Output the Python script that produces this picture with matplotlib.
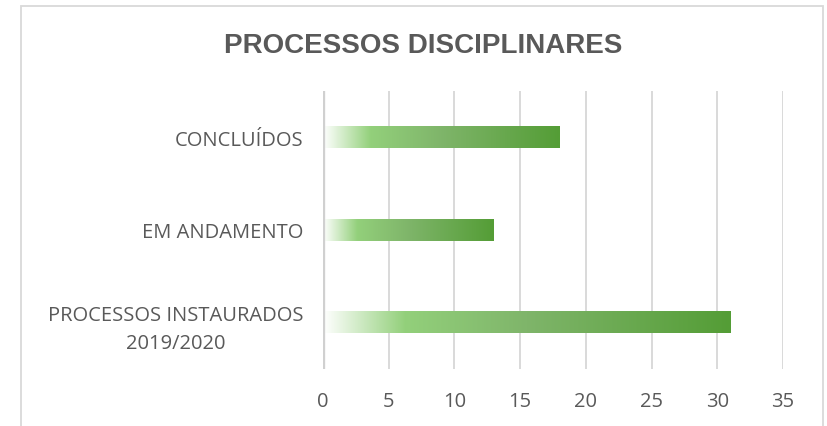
import matplotlib.pyplot as plt
from matplotlib.colors import LinearSegmentedColormap
from matplotlib.patches import Rectangle
import numpy as np

# data
categories = ['PROCESSOS INSTAURADOS\n2019/2020', 'EM ANDAMENTO', 'CONCLUÍDOS']
values = [31, 13, 18]
x_ticks = [0, 5, 10, 15, 20, 25, 30, 35]

text_color = '#595959'
grid_color = '#d9d9d9'

# gradient fill used in every bar (white -> light green -> dark green)
green_grad = LinearSegmentedColormap.from_list('green_grad', [
    (0.0, '#ffffff'),
    (0.2, '#93d07b'),
    (0.5, '#7fb56a'),
    (1.0, '#549d36'),
])

fig = plt.figure(figsize=(8.27, 4.27), dpi=100)
ax = fig.add_axes([323 / 827, 1 - 370 / 427, (783 - 323) / 827, (370 - 92) / 427])

# chart border
fig.patches.append(Rectangle((21 / 827, -0.05), (823 - 21) / 827, 1.05 - 7 / 427,
                             transform=fig.transFigure, fill=False,
                             edgecolor=grid_color, linewidth=1.3))

y = np.arange(len(categories))
bars = ax.barh(y, values, height=0.23, color='none', edgecolor='none', zorder=3)

grad = np.linspace(0, 1, 256).reshape(1, -1)
for bar in bars:
    x0, y0 = bar.get_x(), bar.get_y()
    w, h = bar.get_width(), bar.get_height()
    ax.imshow(grad, cmap=green_grad, aspect='auto', zorder=3,
              extent=[x0, x0 + w, y0, y0 + h], interpolation='bilinear')

ax.set_xlim(0, 35)
ax.set_ylim(-0.5, 2.5)
ax.set_xticks(x_ticks)
ax.set_yticks(y)
ax.set_yticklabels(categories, multialignment='center', linespacing=1.55)

for xt in x_ticks[1:]:
    ax.axvline(xt, color=grid_color, linewidth=1.4, zorder=1)
ax.axvline(0, color='#d0d0d0', linewidth=2.4, zorder=4)

for s in ax.spines.values():
    s.set_visible(False)
ax.tick_params(axis='both', length=0, labelsize=14.5, colors=text_color)
ax.tick_params(axis='y', pad=14)
ax.tick_params(axis='x', pad=16)
for lab in ax.get_xticklabels() + ax.get_yticklabels():
    lab.set_fontfamily('Open Sans')

fig.text(423 / 827, 1 - 46 / 427, 'PROCESSOS DISCIPLINARES', ha='center', va='center',
         fontsize=20, fontweight='bold', color=text_color, fontfamily='Liberation Sans')

fig.savefig('out.png', dpi=100)
